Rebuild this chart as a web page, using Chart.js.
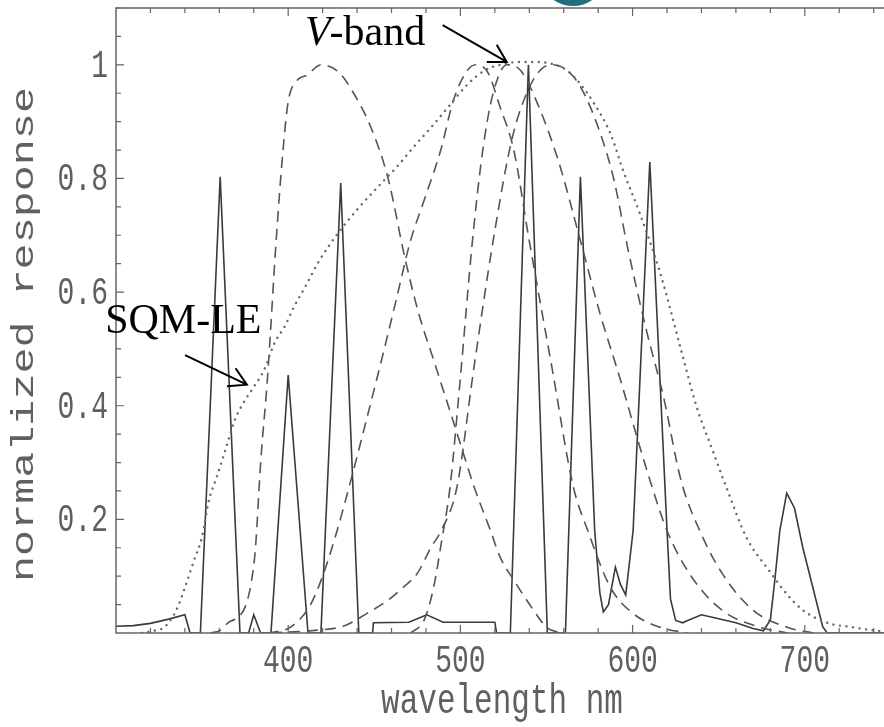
<!DOCTYPE html>
<html>
<head>
<meta charset="utf-8">
<script src="https://cdn.jsdelivr.net/npm/chart.js@4.4.1/dist/chart.umd.min.js"></script>
<style>
  body { margin: 0; background: #fff; }
  canvas { display: block; }
</style>
</head>
<body>
<canvas id="chart" width="884" height="727"></canvas>
<script>
// lamp spectrum (solid)
const lampNm  = [300, 310, 320, 330, 340, 343, 349, 360.5, 372, 377, 380, 384, 390, 400, 411.5, 419, 430.5, 441, 449, 449.5, 470, 480.5, 490, 520, 521, 529, 539.5, 550.5, 561, 569.7, 578, 581, 583, 586, 590, 593, 596, 600.3, 610, 620, 622, 625, 629, 632, 640, 650, 660, 670, 676, 680, 682.6, 685.5, 689.5, 694, 698.8, 704.6, 710.4, 713, 746];
const lampVal = [0.012, 0.013, 0.017, 0.024, 0.032, 0, 0, 0.803, 0, 0, 0.032, 0, 0, 0.454, 0, 0, 0.792, 0, 0, 0.018, 0.019, 0.032, 0.019, 0.019, 0, 0, 1.0, 0, 0, 0.803, 0.18, 0.07, 0.037, 0.05, 0.116, 0.085, 0.067, 0.18, 0.829, 0.18, 0.06, 0.022, 0.018, 0.022, 0.032, 0.025, 0.018, 0.008, 0.004, 0.023, 0.093, 0.18, 0.246, 0.22, 0.151, 0.081, 0.011, 0, 0];

// SQM-LE response (dotted)
const sqmNm  = [315, 322, 328, 335, 340, 345, 350, 354, 358, 363, 369, 375, 380, 386, 392, 398, 403, 410, 418, 429, 440, 452, 463, 473, 483, 493, 504, 514, 523, 534, 545, 555, 562, 570, 577, 587, 595, 604, 616, 628, 637, 647, 655, 666, 680, 690, 699, 714, 726, 739, 746];
const sqmVal = [0, 0.004, 0.01, 0.04, 0.08, 0.125, 0.17, 0.234, 0.27, 0.317, 0.375, 0.41, 0.433, 0.463, 0.51, 0.54, 0.572, 0.61, 0.655, 0.704, 0.745, 0.785, 0.82, 0.856, 0.89, 0.926, 0.965, 0.99, 1.0, 1.005, 1.005, 1.0, 0.99, 0.965, 0.935, 0.88, 0.81, 0.74, 0.634, 0.5, 0.4, 0.317, 0.252, 0.169, 0.107, 0.067, 0.04, 0.017, 0.011, 0.005, 0.003];

// filter bands (dashed)
const bandANm  = [355, 361, 365, 371, 375, 378.5, 381, 384, 388, 393, 397, 400, 405, 411, 419, 429, 438, 448, 458, 468, 476, 484.5, 498, 508, 517.5, 523, 531, 542.5, 550, 558];
const bandAVal = [0, 0.005, 0.018, 0.028, 0.046, 0.088, 0.15, 0.3, 0.45, 0.69, 0.85, 0.935, 0.972, 0.982, 1.0, 0.988, 0.95, 0.89, 0.8, 0.657, 0.56, 0.48, 0.352, 0.257, 0.18, 0.134, 0.093, 0.04, 0.01, 0];
const bandBNm  = [388, 400, 407, 413, 420, 428, 436.5, 445, 455, 463, 471, 479, 488.6, 496, 504, 509, 516, 523, 531, 540, 553, 565.6, 574, 587, 600, 616, 632];
const bandBVal = [0, 0.008, 0.025, 0.05, 0.1, 0.176, 0.27, 0.37, 0.49, 0.59, 0.69, 0.762, 0.85, 0.938, 0.99, 1.0, 0.986, 0.926, 0.85, 0.69, 0.47, 0.257, 0.18, 0.081, 0.035, 0.01, 0];
const bandVNm  = [471, 479, 484.5, 489, 494, 500, 507, 513, 519, 527, 535, 545, 557, 570, 581, 593, 603, 611, 620, 634, 652, 674, 690];
const bandVVal = [0, 0.023, 0.081, 0.16, 0.257, 0.45, 0.69, 0.85, 0.95, 1.0, 0.99, 0.93, 0.83, 0.687, 0.563, 0.445, 0.34, 0.26, 0.18, 0.1, 0.04, 0.01, 0];
const bandDNm  = [390, 417, 432, 446, 458, 467, 475, 483, 489, 498, 508, 519, 530, 540, 548, 554, 562, 570, 580, 589, 597, 608, 618, 628, 639, 652, 670, 691, 705];
const bandDVal = [0, 0.005, 0.012, 0.035, 0.058, 0.081, 0.105, 0.151, 0.181, 0.257, 0.47, 0.69, 0.87, 0.96, 0.995, 1.0, 0.99, 0.96, 0.89, 0.8, 0.68, 0.533, 0.415, 0.27, 0.18, 0.105, 0.04, 0.009, 0];

// axes
const xTickLabels = [400, 500, 600, 700];
const yTickLabels = ['0.2', '0.4', '0.6', '0.8', '1'];
const xMinorStep = 20, yMinorStep = 0.05;

const pts = (xs, ys) => xs.map((x, i) => ({ x: x, y: ys[i] }));
const STRETCH = 1.4; // text in the scan is stretched vertically

function arrow(ctx, x1, y1, x2, y2) {
    let ang = Math.atan2(y2 - y1, x2 - x1), h = 20, s = Math.PI / 6;
    ctx.beginPath();
    ctx.moveTo(x1, y1); ctx.lineTo(x2, y2);
    ctx.moveTo(x2 - h * Math.cos(ang - s), y2 - h * Math.sin(ang - s)); ctx.lineTo(x2, y2);
    ctx.lineTo(x2 - h * Math.cos(ang + s), y2 - h * Math.sin(ang + s));
    ctx.stroke();
}

const decor = {
    id: 'decor',
    beforeDraw(chart) {
        let ctx = chart.ctx;
        ctx.save(); ctx.fillStyle = '#fff'; ctx.fillRect(0, 0, chart.width, chart.height); ctx.restore();
    },
    afterDraw(chart) {
        let { ctx, chartArea: a, scales: { x, y } } = chart;
        ctx.save();
        // frame
        ctx.strokeStyle = '#666'; ctx.lineWidth = 1.5;
        ctx.beginPath();
        ctx.moveTo(a.right, a.top); ctx.lineTo(a.left, a.top); ctx.lineTo(a.left, a.bottom); ctx.lineTo(a.right, a.bottom);
        ctx.stroke();

        // inward ticks
        ctx.lineWidth = 1.2;
        ctx.beginPath();
        for (let v = x.min + xMinorStep; v <= x.max; v += xMinorStep) {
            let px = x.getPixelForValue(v), len = xTickLabels.includes(v) ? 8 : 5;
            ctx.moveTo(px, a.bottom); ctx.lineTo(px, a.bottom - len);
            ctx.moveTo(px, a.top); ctx.lineTo(px, a.top + len);
        }
        for (let i = 1; i * yMinorStep <= y.max; i++) {
            let v = i * yMinorStep, py = y.getPixelForValue(v), len = (i % 4 === 0) ? 8 : 5;
            ctx.moveTo(a.left, py); ctx.lineTo(a.left + len, py);
        }
        ctx.stroke();

        // tick labels
        ctx.fillStyle = '#606060';
        ctx.font = '28px "Liberation Mono", "DejaVu Sans Mono", monospace';
        ctx.textBaseline = 'alphabetic';
        ctx.textAlign = 'center';
        xTickLabels.forEach(v => {
            ctx.save(); ctx.translate(x.getPixelForValue(v), a.bottom + 39); ctx.scale(1, STRETCH);
            ctx.fillText(String(v), 0, 0); ctx.restore();
        });
        ctx.textAlign = 'right';
        yTickLabels.forEach(t => {
            ctx.save(); ctx.translate(a.left - 8, y.getPixelForValue(parseFloat(t)) + 12); ctx.scale(1, STRETCH);
            ctx.fillText(t, 0, 0); ctx.restore();
        });

        // axis titles
        ctx.font = '31px "Liberation Mono", "DejaVu Sans Mono", monospace';
        ctx.textAlign = 'center';
        ctx.save(); ctx.translate((a.left + a.right) / 2 + 2, chart.height - 14); ctx.scale(1, STRETCH);
        ctx.fillText('wavelength nm', 0, 0); ctx.restore();
        ctx.save(); ctx.translate(33, (a.top + a.bottom) / 2 + 14); ctx.rotate(-Math.PI / 2); ctx.scale(STRETCH, 1);
        ctx.fillText('normalized response', 0, 0); ctx.restore();

        // annotations
        ctx.fillStyle = '#000'; ctx.strokeStyle = '#000'; ctx.lineWidth = 2;
        ctx.textAlign = 'left';
        let vx = x.getPixelForValue(409.7), vy = y.getPixelForValue(1.035);
        ctx.font = 'italic 42px "Liberation Serif", "Times New Roman", serif';
        ctx.fillText('V', vx, vy);
        let vw = ctx.measureText('V').width;
        ctx.font = '42px "Liberation Serif", "Times New Roman", serif';
        ctx.fillText('-band', vx + vw - 1, vy);
        arrow(ctx, x.getPixelForValue(489.7), y.getPixelForValue(1.07), x.getPixelForValue(526.9), y.getPixelForValue(1.005));
        ctx.fillText('SQM-LE', x.getPixelForValue(293.7), y.getPixelForValue(0.528));
        arrow(ctx, x.getPixelForValue(340.1), y.getPixelForValue(0.489), x.getPixelForValue(376), y.getPixelForValue(0.437));

        // teal blob at the top edge (cut-off logo)
        ctx.fillStyle = '#1f6f80';
        ctx.beginPath(); ctx.ellipse(573, -11, 25, 17, 0, 0, Math.PI * 2); ctx.fill();
        ctx.restore();
    }
};

const dashed = { borderColor: '#555', borderWidth: 1.6, borderDash: [11, 7], pointRadius: 0, cubicInterpolationMode: 'monotone', fill: false };

new Chart(document.getElementById('chart'), {
    type: 'line',
    data: {
        datasets: [
            { label: 'SQM-LE', data: pts(sqmNm, sqmVal), borderColor: '#6a6a6a', borderWidth: 2.4, borderDash: [0.1, 6.5], borderCapStyle: 'round', pointRadius: 0, cubicInterpolationMode: 'monotone' },
            Object.assign({ label: 'band A', data: pts(bandANm, bandAVal) }, dashed),
            Object.assign({ label: 'band B', data: pts(bandBNm, bandBVal) }, dashed),
            Object.assign({ label: 'V-band', data: pts(bandVNm, bandVVal) }, dashed),
            Object.assign({ label: 'band D', data: pts(bandDNm, bandDVal) }, dashed),
            { label: 'lamp', data: pts(lampNm, lampVal), borderColor: '#3a3a3a', borderWidth: 1.6, tension: 0, pointRadius: 0 }
        ]
    },
    options: {
        responsive: false, animation: false, devicePixelRatio: 1,
        layout: { padding: { left: 116, top: 8, bottom: 94, right: 0 } },
        plugins: { legend: { display: false }, tooltip: { enabled: false } },
        scales: {
            x: { type: 'linear', min: 300, max: 746, display: false },
            y: { type: 'linear', min: 0, max: 1.1, display: false }
        }
    },
    plugins: [decor]
});
</script>
</body>
</html>
